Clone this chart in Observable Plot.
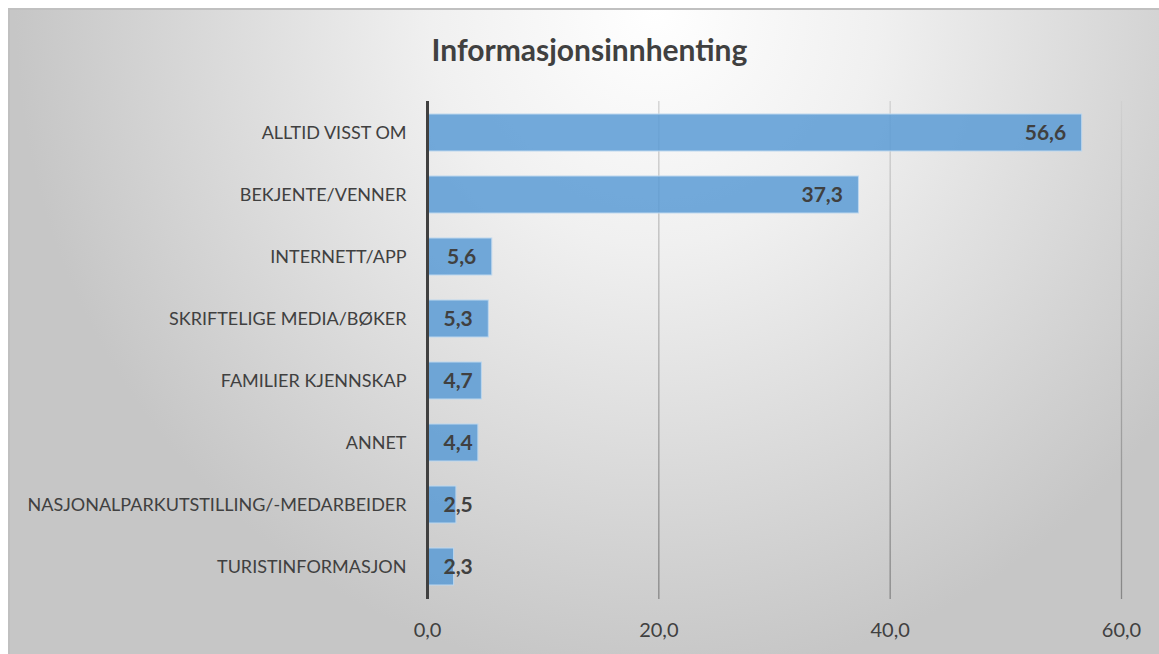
<!DOCTYPE html>
<html>
<head>
<meta charset="utf-8">
<script src="https://cdn.jsdelivr.net/npm/d3@7"></script>
<script src="https://cdn.jsdelivr.net/npm/@observablehq/plot@0.6"></script>
<style>
  html, body { margin: 0; padding: 0; background: #ffffff; width: 1159px; height: 654px; overflow: hidden; }
  #frame {
    position: absolute; left: 8px; top: 8px; width: 1151px; height: 646px;
    box-sizing: border-box;
    border-top: 2px solid #c0c0c0; border-left: 2px solid #c0c0c0;
    background: radial-gradient(ellipse 640px 670px at 645px 0px, #ffffff 0%, #f0f0f0 35%, #c6c6c6 100%);
  }
  #title {
    position: absolute; left: 14px; width: 1151px; top: 31px; text-align: center;
    font-family: Lato, "Open Sans", sans-serif; font-weight: bold; font-size: 30px; color: #404040;
  }
  #chart { position: absolute; left: 0; top: 0; }
</style>
</head>
<body>
<div id="frame"></div>
<div id="title">Informasjonsinnhenting</div>
<div id="chart"></div>
<script>
const categories = [
  "ALLTID VISST OM",
  "BEKJENTE/VENNER",
  "INTERNETT/APP",
  "SKRIFTELIGE MEDIA/BØKER",
  "FAMILIER KJENNSKAP",
  "ANNET",
  "NASJONALPARKUTSTILLING/-MEDARBEIDER",
  "TURISTINFORMASJON"
];
const values = [56.6, 37.3, 5.6, 5.3, 4.7, 4.4, 2.5, 2.3];
const xTicks = [0, 20, 40, 60];
const gridTicks = [20, 40, 60];

const data = categories.map((c, i) => ({category: c, value: values[i]}));
const fmt = v => v.toFixed(1).replace(".", ",");

const chart = Plot.plot({
  width: 1159,
  height: 654,
  marginLeft: 427,
  marginRight: 38,
  marginTop: 101,
  marginBottom: 55,
  style: {background: "transparent", fontFamily: "Lato, 'Open Sans', sans-serif", color: "#404040"},
  x: {domain: [0, 60]},
  y: {domain: categories, paddingInner: 0.4, paddingOuter: 0.2},
  marks: [
    Plot.ruleX(gridTicks, {stroke: "url(#gridgrad)", strokeWidth: 1.3}),
    Plot.barX(data, {
      x: "value", y: "category",
      fill: "#5b9bd5", fillOpacity: 0.85,
      stroke: "#bdd7ee", strokeWidth: 1
    }),
    Plot.ruleX([0], {stroke: "#404040", strokeWidth: 3}),
    Plot.text(data.filter(d => d.value > 5), {
      x: "value", y: "category", text: d => fmt(d.value),
      textAnchor: "end", dx: -16, fill: "#404040",
      fontWeight: "bold", fontSize: 21
    }),
    Plot.text(data.filter(d => d.value <= 5), {
      x: 0, y: "category", text: d => fmt(d.value),
      textAnchor: "start", dx: 16, fill: "#404040",
      fontWeight: "bold", fontSize: 21
    }),
    Plot.axisY({tickSize: 0, tickPadding: 21, fontSize: 18, label: null, fill: "#404040"}),
    Plot.axisX({ticks: xTicks, tickSize: 0, tickPadding: 23, fontSize: 20, label: null,
      tickFormat: fmt, fill: "#404040"})
  ]
});

const svg = d3.select(chart);
const defs = svg.insert("defs", ":first-child");
const lg = defs.append("linearGradient")
  .attr("id", "gridgrad")
  .attr("gradientUnits", "userSpaceOnUse")
  .attr("x1", 0).attr("y1", 101).attr("x2", 0).attr("y2", 599);
lg.append("stop").attr("offset", "0%").attr("stop-color", "#d0d0d0");
lg.append("stop").attr("offset", "100%").attr("stop-color", "#868686");

document.getElementById("chart").appendChild(chart);
</script>
</body>
</html>
